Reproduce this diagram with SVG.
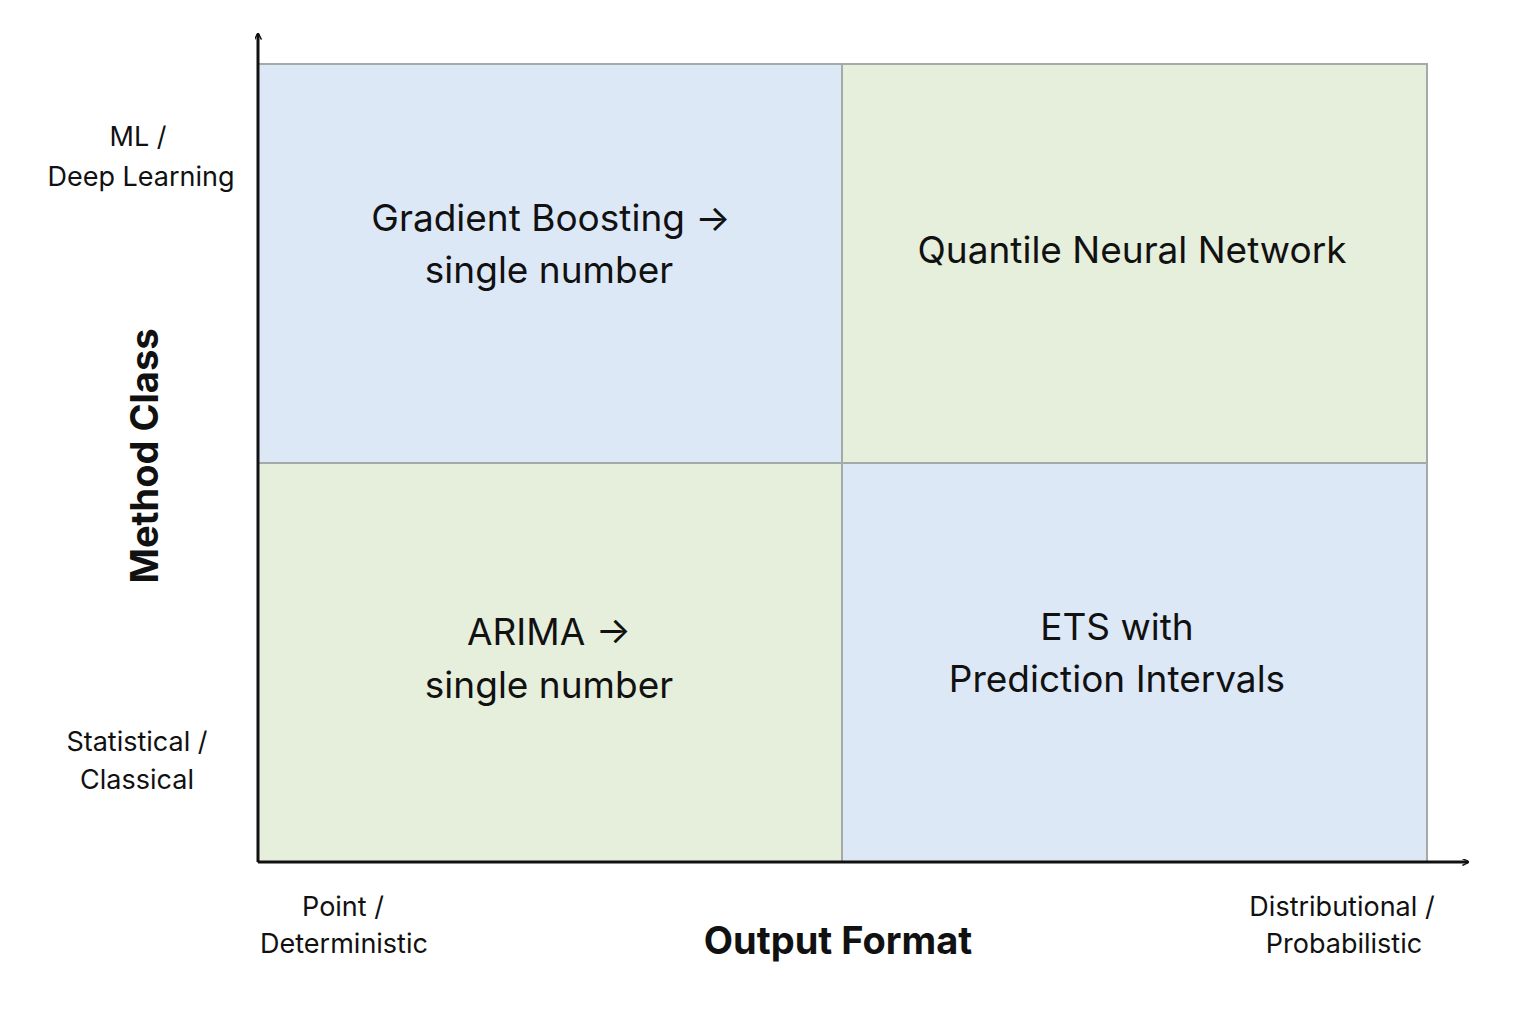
<svg xmlns="http://www.w3.org/2000/svg" width="1536" height="1024" viewBox="0 0 1536 1024">
<style>
.q{stroke:#a4aaa8;stroke-width:2}
.b{fill:#dde8f7}.g{fill:#e6eedc}
.t{font-family:Inter,"Noto Sans",sans-serif;font-size:37px;fill:#111;text-anchor:middle}
.s{font-family:Inter,"Noto Sans",sans-serif;font-size:27px;fill:#111;text-anchor:middle}
.h{font-family:Inter,"Noto Sans",sans-serif;font-size:38px;font-weight:bold;fill:#111;text-anchor:middle}
.ax{stroke:#111;stroke-width:3;fill:none}
</style>
<defs><marker id="ar" viewBox="0 0 10 10" refX="8" refY="5" markerWidth="7" markerHeight="7" markerUnits="userSpaceOnUse" orient="auto"><path d="M0,0 L10,5 L0,10" fill="none" stroke="#111" stroke-width="2"/></marker></defs>
<rect width="1536" height="1024" fill="#fff"/>
<g id="q-tl"><rect class="q b" x="258" y="64" width="584" height="399"/><text class="t" x="551" y="231">Gradient Boosting →</text><text class="t" x="549" y="283">single number</text></g>
<g id="q-tr"><rect class="q g" x="842" y="64" width="585" height="399"/><text class="t" x="1132" y="263">Quantile Neural Network</text></g>
<g id="q-bl"><rect class="q g" x="258" y="463" width="584" height="399"/><text class="t" x="549" y="645">ARIMA →</text><text class="t" x="549" y="698">single number</text></g>
<g id="q-br"><rect class="q b" x="842" y="463" width="585" height="399"/><text class="t" x="1117" y="640">ETS with</text><text class="t" x="1117" y="692">Prediction Intervals</text></g>
<g id="axes">
<path class="ax" d="M258,862 V34" marker-end="url(#ar)"/>
<path class="ax" d="M258,862 H1468" marker-end="url(#ar)"/>
</g>
<g id="labels">
<text class="s" x="138" y="146">ML /</text><text class="s" x="141" y="186">Deep Learning</text>
<text class="s" x="137" y="751">Statistical /</text><text class="s" x="137" y="789">Classical</text>
<text class="h" transform="translate(158,456) rotate(-90)" font-size="36">Method Class</text>
<text class="s" x="343" y="916">Point /</text><text class="s" x="344" y="953">Deterministic</text>
<text class="h" x="838" y="954">Output Format</text>
<text class="s" x="1342" y="916">Distributional /</text><text class="s" x="1344" y="953">Probabilistic</text>
</g>
</svg>
